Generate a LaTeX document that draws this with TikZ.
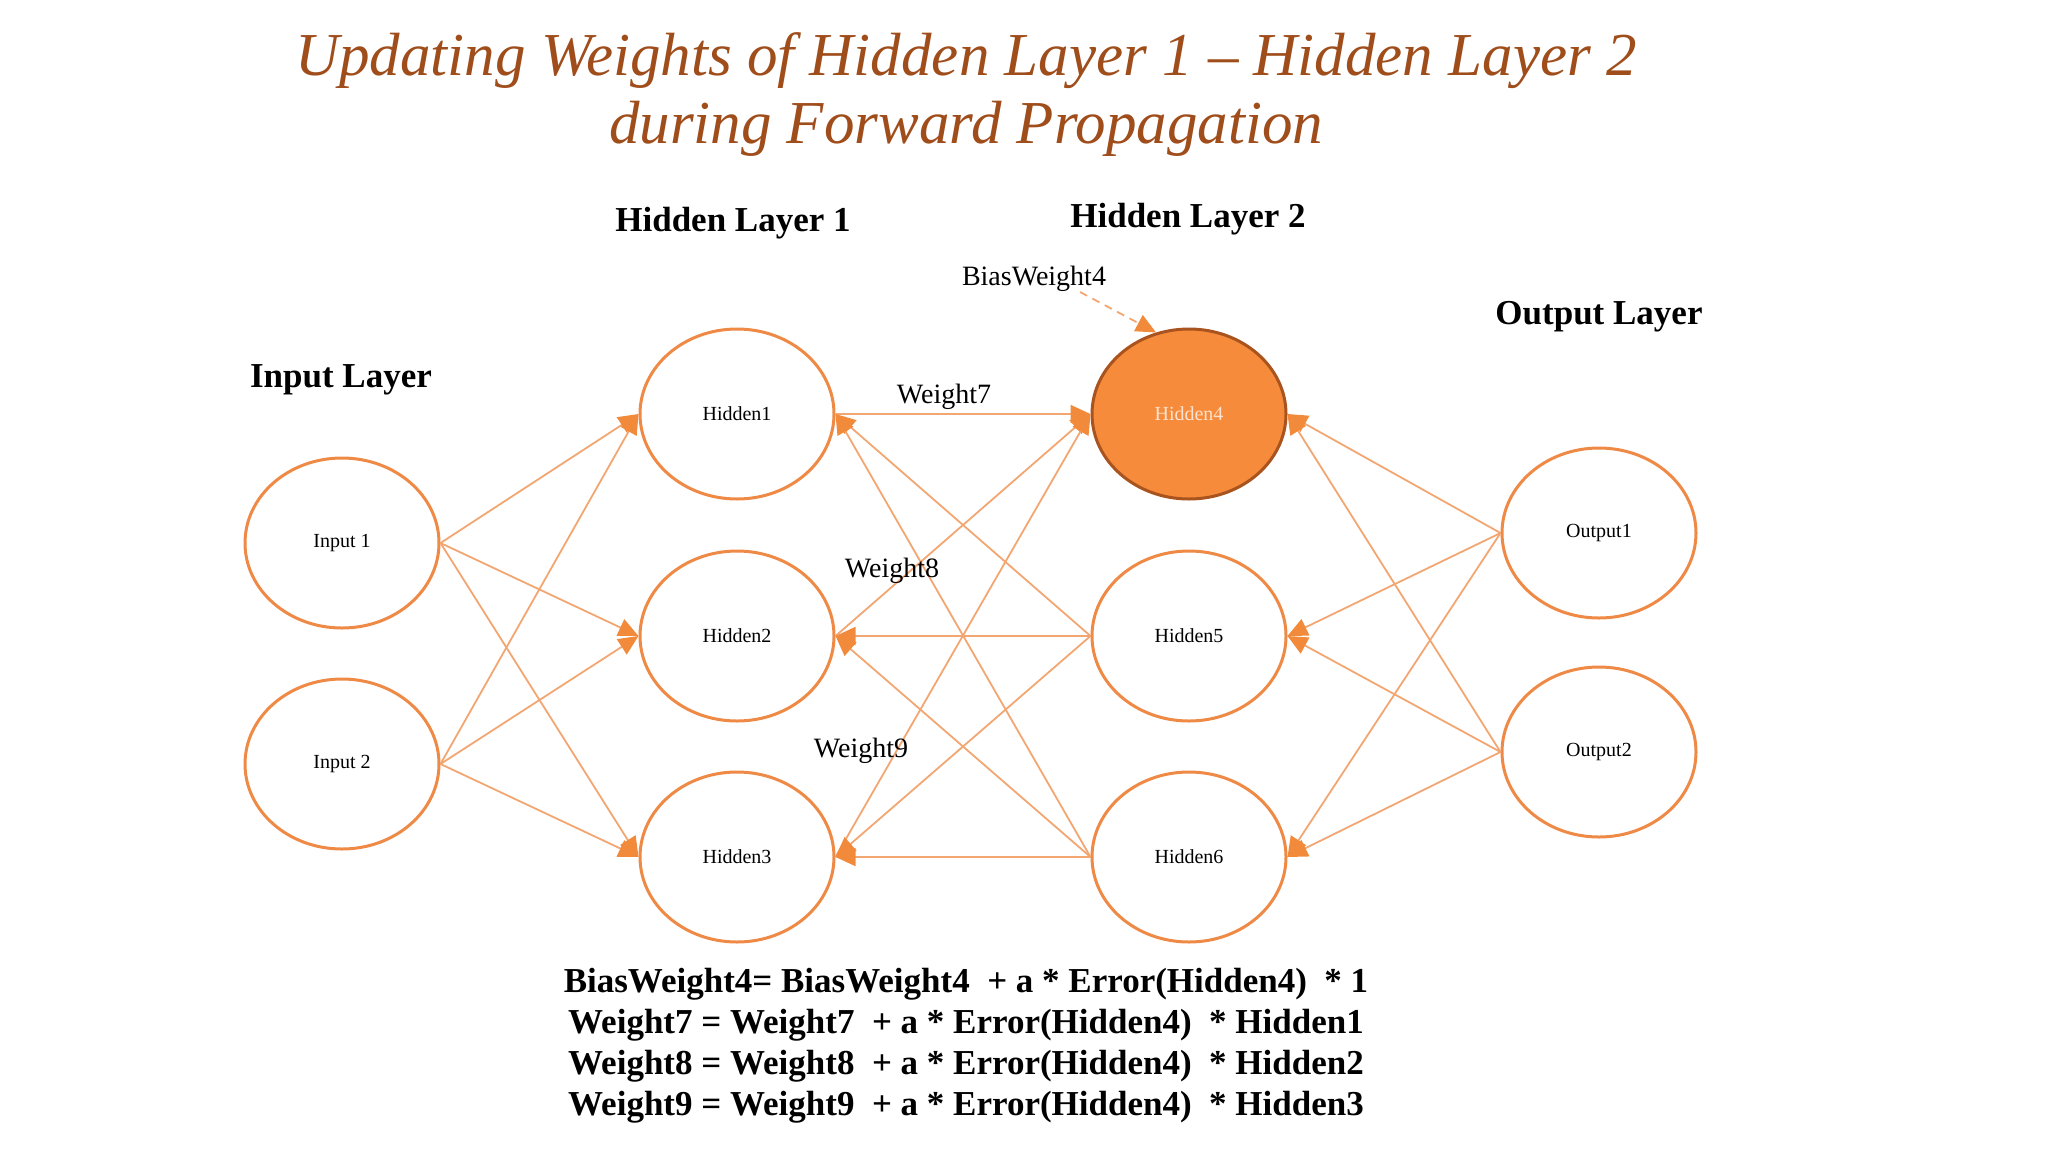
\documentclass[tikz,border=0pt]{standalone}
\usepackage{fontspec}
\setmainfont{Liberation Serif}
\usetikzlibrary{shapes.geometric,arrows.meta}
\definecolor{titlebrown}{HTML}{A04D1C}
\definecolor{nodeorange}{HTML}{EE8A45}
\definecolor{edgeorange}{HTML}{F2A672}
\definecolor{tiporange}{HTML}{F28A3C}
\definecolor{hfill}{HTML}{F58B3B}
\definecolor{hborder}{HTML}{A9531F}
\definecolor{htext}{HTML}{FDE3CF}
\begin{document}
\begin{tikzpicture}[x=1pt,y=-1pt,
  neuron/.style={ellipse, draw=nodeorange, line width=3pt, fill=white,
    minimum width=194pt, minimum height=170pt, inner sep=0pt,
    font=\fontsize{20}{22}\selectfont},
  active/.style={neuron, fill=hfill, draw=hborder, text=htext},
  link/.style={draw=edgeorange, line width=1.8pt,
    -{Triangle[length=20pt,width=18pt,color=tiporange]}},
  layerlabel/.style={font=\fontsize{35}{40}\selectfont\bfseries, text=black},
  wlabel/.style={font=\fontsize{28}{32}\selectfont, text=black, inner sep=0pt},
  titletext/.style={font=\fontsize{61}{68}\selectfont\itshape, text=titlebrown, align=center}
]
\useasboundingbox (0,0) rectangle (2048,1152);

% title
\node[titletext] (title) at (966,95) {Updating Weights of Hidden Layer 1 -- Hidden Layer 2\\during Forward Propagation};

% layer labels
\node[layerlabel] (lin) at (341,380) {Input Layer};
\node[layerlabel] (lh1) at (733,223) {Hidden Layer 1};
\node[layerlabel] (lh2) at (1188,219) {Hidden Layer 2};
\node[layerlabel] (lout) at (1599,317) {Output Layer};

% neurons
\node[neuron] (in1) at (342,543) {Input 1};
\node[neuron] (in2) at (342,764) {Input 2};
\node[neuron] (h1) at (737,414) {Hidden1};
\node[neuron] (h2) at (737,636) {Hidden2};
\node[neuron] (h3) at (737,857) {Hidden3};
\node[active] (h4) at (1189,414) {Hidden4};
\node[neuron] (h5) at (1189,636) {Hidden5};
\node[neuron] (h6) at (1189,857) {Hidden6};
\node[neuron] (o1) at (1599,533) {Output1};
\node[neuron] (o2) at (1599,752) {Output2};

% input -> hidden layer 1
\foreach \s in {in1,in2}{
  \foreach \t in {h1,h2,h3}{
    \draw[link] (\s.east) -- (\t.west);
  }
}
% hidden layer 1 -> hidden4
\foreach \s in {h1,h2,h3}{
  \draw[link] (\s.east) -- (h4.west);
}
% hidden5, hidden6 -> hidden layer 1
\foreach \s in {h5,h6}{
  \foreach \t in {h1,h2,h3}{
    \draw[link] (\s.west) -- (\t.east);
  }
}
% output -> hidden layer 2
\foreach \s in {o1,o2}{
  \foreach \t in {h4,h5,h6}{
    \draw[link] (\s.west) -- (\t.east);
  }
}

% weight labels
\node[wlabel] (bw) at (1034,279) {BiasWeight4};
\node[wlabel] (w7) at (944,397) {Weight7};
\node[wlabel] (w8) at (892,571) {Weight8};
\node[wlabel] (w9) at (861,751) {Weight9};

% bias arrow
\coordinate (bstart) at (1080,292);
\draw[link, dashed, dash pattern=on 8pt off 6pt] (bstart) -- (h4.112);

% equations
\node[font=\fontsize{35}{41}\selectfont\bfseries, align=center, text=black] (eqs) at (966,1046)
 {BiasWeight4= BiasWeight4 \ + a * Error(Hidden4) \ * 1\\
  Weight7 = Weight7 \ + a * Error(Hidden4) \ * Hidden1\\
  Weight8 = Weight8 \ + a * Error(Hidden4) \ * Hidden2\\
  Weight9 = Weight9 \ + a * Error(Hidden4) \ * Hidden3};
\end{tikzpicture}
\end{document}
